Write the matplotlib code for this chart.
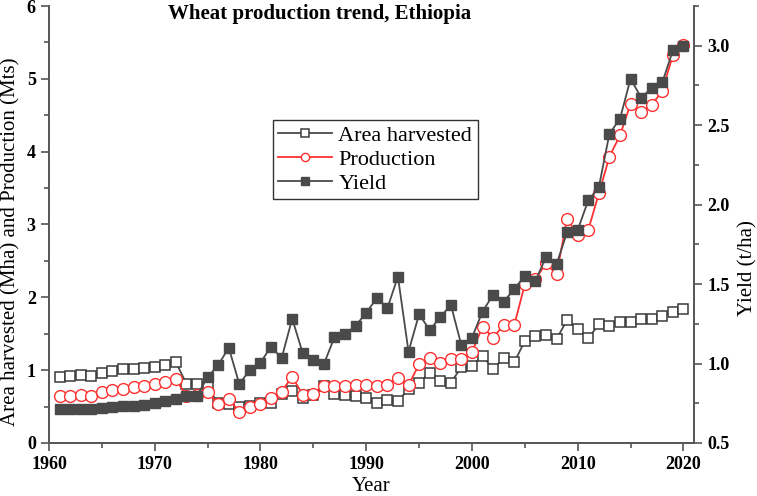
import numpy as np
import matplotlib
matplotlib.use('Agg')
import matplotlib.pyplot as plt
from matplotlib.ticker import MultipleLocator, FormatStrFormatter

plt.rcParams['font.family'] = ['Liberation Serif', 'DejaVu Serif']

years = list(range(1961, 2021))

area = [0.91, 0.92, 0.93, 0.92, 0.965, 0.99, 1.01, 1.02, 1.03, 1.05,
        1.075, 1.11, 0.81, 0.815, 0.765, 0.545, 0.535, 0.495, 0.51, 0.545,
        0.55, 0.673, 0.718, 0.62, 0.66, 0.783, 0.668, 0.66, 0.645, 0.613,
        0.553, 0.59, 0.58, 0.737, 0.828, 0.966, 0.85, 0.828, 1.04, 1.06,
        1.2, 1.01, 1.17, 1.108, 1.40, 1.469, 1.483, 1.428, 1.689, 1.561,
        1.437, 1.63, 1.607, 1.666, 1.666, 1.698, 1.698, 1.748, 1.794, 1.836]

production = [0.645, 0.65, 0.655, 0.65, 0.70, 0.73, 0.745, 0.765, 0.78, 0.805,
              0.84, 0.875, 0.645, 0.66, 0.70, 0.535, 0.61, 0.425, 0.495, 0.535,
              0.62, 0.705, 0.912, 0.66, 0.675, 0.783, 0.783, 0.783, 0.796, 0.796,
              0.787, 0.796, 0.897, 0.796, 1.08, 1.163, 1.094, 1.149, 1.153, 1.245,
              1.597, 1.444, 1.62, 1.616, 2.179, 2.248, 2.467, 2.316, 3.08, 2.856,
              2.925, 3.428, 3.93, 4.225, 4.655, 4.54, 4.641, 4.833, 5.327, 5.465]

yield_tha = [0.714, 0.714, 0.714, 0.712, 0.722, 0.727, 0.731, 0.735, 0.741, 0.750,
             0.762, 0.775, 0.796, 0.798, 0.914, 0.99, 1.10, 0.871, 0.96, 1.006,
             1.106, 1.033, 1.282, 1.065, 1.023, 0.997, 1.166, 1.186, 1.237, 1.32,
             1.411, 1.348, 1.547, 1.075, 1.31, 1.212, 1.29, 1.371, 1.115, 1.163,
             1.327, 1.433, 1.39, 1.468, 1.553, 1.52, 1.669, 1.625, 1.827, 1.841,
             2.026, 2.11, 2.446, 2.54, 2.792, 2.674, 2.733, 2.769, 2.97, 2.996]

gray = '#4a4a4a'
red = '#ff3030'

fig = plt.figure(figsize=(7.57, 4.96), dpi=100)
ax = fig.add_axes([0.0647, 0.1069, 0.8521, 0.881])
ax2 = ax.twinx()

l1, = ax.plot(years, area, color=gray, lw=1.3, marker='s', ms=7.5,
              mfc='white', mec='#3a3a3a', mew=1.1, label='Area harvested')
l2, = ax.plot(years, production, color=red, lw=1.3, marker='o', ms=8.5,
              mfc='white', mec=red, mew=1.0, label='Production')
l3, = ax2.plot(years, yield_tha, color=gray, lw=1.3, marker='s', ms=7.5,
               mfc=gray, mec=gray, label='Yield')

ax.set_xlim(1960, 2021)
ax.set_ylim(0, 6)
ax2.set_ylim(0.5, 3.25)

ax.xaxis.set_major_locator(MultipleLocator(10))
ax.xaxis.set_minor_locator(MultipleLocator(5))
ax.yaxis.set_major_locator(MultipleLocator(1))
ax.yaxis.set_minor_locator(MultipleLocator(0.5))
ax2.yaxis.set_major_locator(MultipleLocator(0.5))
ax2.yaxis.set_minor_locator(MultipleLocator(0.25))
ax2.yaxis.set_major_formatter(FormatStrFormatter('%.1f'))

for a in (ax, ax2):
    for s in a.spines.values():
        s.set_color('#555555')
        s.set_linewidth(1.2)
    a.tick_params(which='major', direction='out', length=6, width=1.2,
                  color='#555555', labelsize=13)
    a.tick_params(which='minor', direction='out', length=3.5, width=1.2,
                  color='#555555')
ax.spines['top'].set_visible(False)
ax2.spines['top'].set_visible(False)

for lab in ax.get_xticklabels() + ax.get_yticklabels() + ax2.get_yticklabels():
    lab.set_fontweight('bold')

ax.set_xlabel('Year', fontsize=15, labelpad=3)
ax.set_ylabel('Area harvested (Mha) and Production (Mts)', fontsize=15)
ax.yaxis.set_label_coords(-0.044, 0.46)
ax2.set_ylabel('Yield (t/ha)', fontsize=15)
ax2.yaxis.set_label_coords(1.068, 0.40)

ax.text(0.184, 0.982, 'Wheat production trend, Ethiopia', transform=ax.transAxes,
        fontsize=15, fontweight='bold', ha='left', va='center')

leg = ax2.legend(handles=[l1, l2, l3], loc='upper left', bbox_to_anchor=(0.347, 0.739),
                 borderaxespad=0, fontsize=16, fancybox=False, framealpha=1,
                 edgecolor='#333333', markerscale=0.7, handlelength=2.4,
                 borderpad=0.25, labelspacing=0.15, handletextpad=0.3)
leg.get_frame().set_linewidth(1.0)

fig.savefig('out.png', dpi=100)
